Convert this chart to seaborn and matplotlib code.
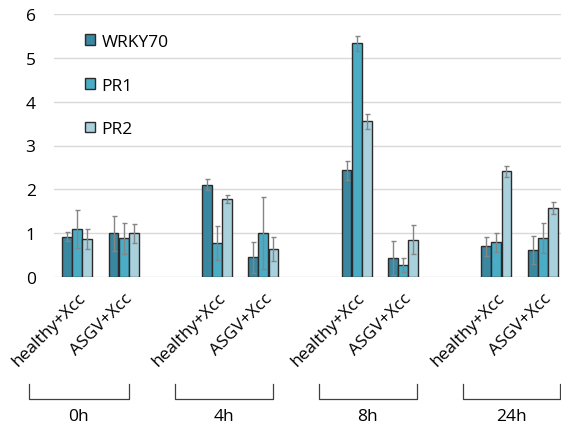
import pandas as pd
import matplotlib
matplotlib.use("Agg")
import matplotlib.pyplot as plt
import matplotlib.colors as mcolors
import seaborn as sns
from matplotlib.patches import Patch
from matplotlib.transforms import ScaledTranslation, blended_transform_factory

# ----------------------
# Datos (orden: 0h healthy, 0h ASGV, 4h healthy, 4h ASGV, ...)
# ----------------------
times = ["0h", "4h", "8h", "24h"]
treatments = ["healthy+Xcc", "ASGV+Xcc"]
genes = ["WRKY70", "PR1", "PR2"]

wrky70 = [0.92, 1.00, 2.11, 0.45, 2.43, 0.43, 0.70, 0.62]
pr1 = [1.10, 0.88, 0.77, 1.00, 5.33, 0.27, 0.79, 0.89]
pr2 = [0.87, 1.00, 1.77, 0.64, 3.55, 0.85, 2.41, 1.57]

wrky70_err = [0.11, 0.40, 0.13, 0.35, 0.21, 0.38, 0.22, 0.32]
pr1_err = [0.43, 0.36, 0.39, 0.82, 0.17, 0.16, 0.22, 0.34]
pr2_err = [0.23, 0.22, 0.09, 0.28, 0.17, 0.33, 0.13, 0.14]

colors = ["#3A87A0", "#4BACC6", "#A9D1DD"]

# spans of the time brackets below the axis (category units)
bracket_spans = [(-1.04, 1.11), (2.10, 4.20), (5.19, 7.29), (8.28, 10.37)]

samples = [f"{t} {tr}" for t in times for tr in treatments]
order = []
for i, t in enumerate(times):
    order += [f"{t} {tr}" for tr in treatments]
    if i < len(times) - 1:
        order.append(f"gap{i}")

rows = []
for gene, vals, errs in zip(genes, [wrky70, pr1, pr2], [wrky70_err, pr1_err, pr2_err]):
    for s, v, e in zip(samples, vals, errs):
        rows.append({"sample": s, "gene": gene, "value": v, "err": e})
df = pd.DataFrame(rows)

plt.rcParams["font.family"] = ["Open Sans", "DejaVu Sans"]
fs = 12.5

fig = plt.figure(figsize=(5.61, 4.27), dpi=100)
ax = fig.add_axes([53.7 / 561, 149 / 427, (561 - 53.7) / 561, 263 / 427])

edge = "#2b2b2b"
sns.barplot(data=df, x="sample", y="value", hue="gene", order=order, hue_order=genes,
            palette=colors, saturation=1, width=0.65, gap=0.02, edgecolor=edge,
            linewidth=1.0, errorbar=None, legend=False, ax=ax)

# barras de error
color_to_gene = {mcolors.to_hex(c).lower(): g for c, g in zip(colors, genes)}
for bar in ax.patches:
    fc = mcolors.to_hex(bar.get_facecolor()).lower()
    if fc not in color_to_gene:
        continue
    gene = color_to_gene[fc]
    xc = bar.get_x() + bar.get_width() / 2
    s = order[int(round(xc))]
    e = df[(df["sample"] == s) & (df["gene"] == gene)]["err"].iloc[0]
    ax.errorbar(xc, bar.get_height(), yerr=e, fmt="none", ecolor="#858585",
                elinewidth=1, capsize=1.8, capthick=1, zorder=5)

ax.set_ylim(0, 6)
ax.set_yticks(range(0, 7))
ax.set_xlim(-0.5, -0.5 + (561 - 53.7) / 46.6)
ax.yaxis.grid(True, color="#d9d9d9", linewidth=1)
ax.set_axisbelow(True)
for sp in ax.spines.values():
    sp.set_visible(False)
ax.set_xlabel("")
ax.set_ylabel("")
ax.tick_params(axis="both", length=0, labelsize=fs)
ax.tick_params(axis="y", pad=13)
ax.tick_params(axis="x", pad=13)

ax.set_xticks([order.index(s) for s in samples])
ax.set_xticklabels([tr for t in times for tr in treatments], rotation=45,
                   ha="right", va="center", rotation_mode="anchor")
offset = ScaledTranslation(0.06, 0, fig.dpi_scale_trans)
for lab in ax.get_xticklabels():
    lab.set_transform(lab.get_transform() + offset)

# corchetes de tiempo
trans = blended_transform_factory(ax.transData, fig.transFigure)
for t, (l, r) in zip(times, bracket_spans):
    ax.plot([l, l, r, r], [0.0984, 0.0632, 0.0632, 0.0984], transform=trans,
            color="#404040", linewidth=0.9, clip_on=False)
    ax.text((l + r) / 2, 0.0234, t, transform=trans, ha="center", va="center", fontsize=fs)

handles = [Patch(facecolor=c, edgecolor=edge, linewidth=1.0) for c in colors]
ax.legend(handles, genes, loc="upper left", bbox_to_anchor=(0.062, 0.925), frameon=False,
          fontsize=fs, handlelength=0.55, handleheight=0.55, handletextpad=0.4,
          labelspacing=1.6, borderpad=0, borderaxespad=0)

fig.savefig("out.png", dpi=100)
